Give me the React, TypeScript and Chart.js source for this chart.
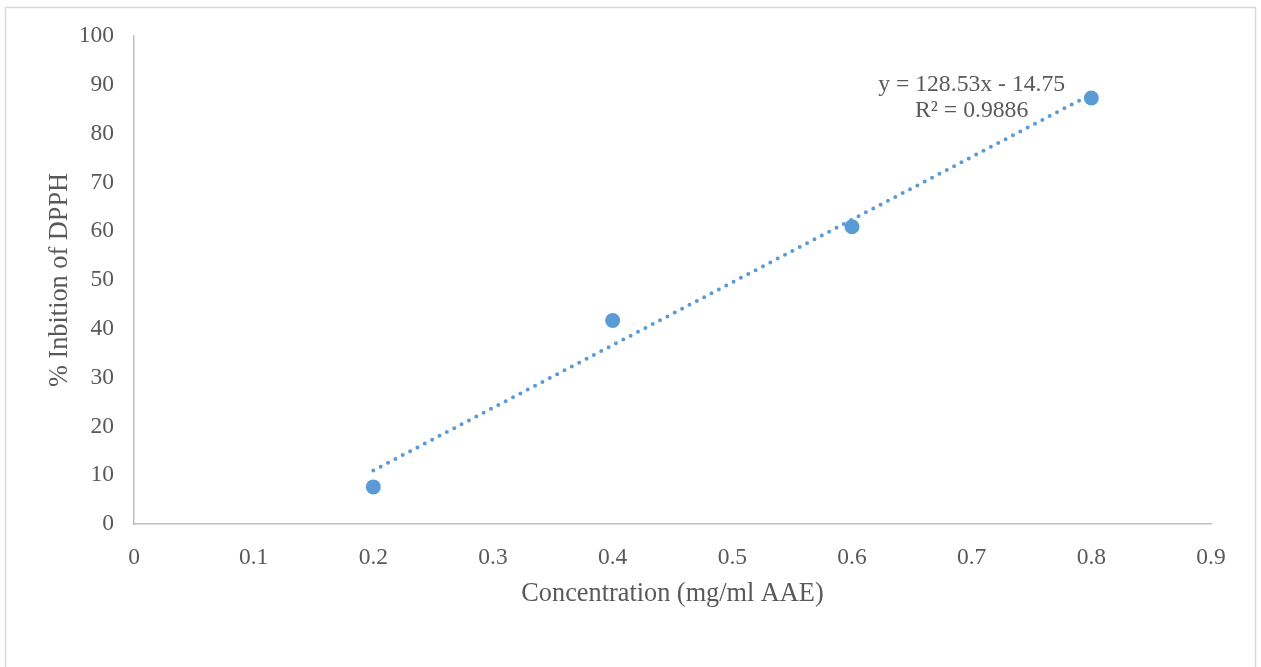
import React, { useEffect, useRef } from "react";
import { Chart, registerables } from "chart.js";

Chart.register(...registerables);

// ---- data ----
const concentrations = [0.2, 0.4, 0.6, 0.8];
const inhibition = [7.6, 41.7, 60.9, 87.3];
const trendX = [0.2, 0.8];
const trendY = [10.96, 88.07];
const xTickLabels = ["0", "0.1", "0.2", "0.3", "0.4", "0.5", "0.6", "0.7", "0.8", "0.9"];
const yTickLabels = ["0", "10", "20", "30", "40", "50", "60", "70", "80", "90", "100"];
const equationLines = ["y = 128.53x - 14.75", "R\u00b2 = 0.9886"];
const xTitle = "Concentration (mg/ml AAE)";
const yTitle = "% Inbition of DPPH";

const BLUE = "#5b9bd5";
const TEXT = "#595959";
const FONT = "'Liberation Serif', 'Times New Roman', serif";

const frame = {
  id: "frame",
  beforeDraw(chart: any) {
    const ctx = chart.ctx;
    ctx.save();
    ctx.fillStyle = "#ffffff";
    ctx.fillRect(0, 0, chart.width, chart.height);
    ctx.strokeStyle = "#d9d9d9";
    ctx.lineWidth = 1.5;
    ctx.strokeRect(5.5, 7.5, 1250, 680);
    ctx.restore();
  },
  afterDatasetsDraw(chart: any) {
    const ctx = chart.ctx;
    const xs = chart.scales.x;
    const ys = chart.scales.y;
    const cx = xs.getPixelForValue(0.7);
    const by = ys.getPixelForValue(88.7);
    ctx.save();
    ctx.fillStyle = TEXT;
    ctx.font = `23.7px ${FONT}`;
    ctx.textAlign = "center";
    ctx.textBaseline = "alphabetic";
    equationLines.forEach((t, i) => ctx.fillText(t, cx, by + i * 25.5));
    ctx.restore();
  },
};

export default function App() {
  const ref = useRef<HTMLCanvasElement>(null);
  useEffect(() => {
    const chart = new Chart(ref.current!, {
      type: "scatter",
      data: {
        datasets: [
          {
            type: "line",
            label: "Trend",
            data: trendX.map((x, i) => ({ x, y: trendY[i] })),
            borderColor: BLUE,
            borderWidth: 4,
            borderCapStyle: "round",
            borderDash: [0, 8.3],
            pointRadius: 0,
            fill: false,
            order: 2,
          } as any,
          {
            label: "Data",
            data: concentrations.map((x, i) => ({ x, y: inhibition[i] })),
            backgroundColor: BLUE,
            borderColor: BLUE,
            pointRadius: 7.5,
            pointBorderWidth: 0,
            order: 1,
          },
        ],
      },
      options: {
        responsive: false,
        animation: false,
        layout: { padding: { top: 36, right: 50, bottom: 0, left: 0 } },
        plugins: { legend: { display: false }, tooltip: { enabled: false } },
        scales: {
          x: {
            type: "linear",
            min: 0,
            max: 0.9,
            afterFit: (s: any) => { s.height = 143; },
            grid: { display: false, drawTicks: false },
            border: { display: true, color: "#bfbfbf", width: 1.5 },
            ticks: {
              stepSize: 0.1,
              padding: 20,
              color: TEXT,
              font: { family: FONT, size: 23.5 },
              maxRotation: 0,
              callback: (v: any) => xTickLabels[Math.round(Number(v) * 10)],
            },
            title: {
              display: true,
              text: xTitle,
              color: TEXT,
              font: { family: FONT, size: 26.3 },
              padding: { top: 0, bottom: 57 },
            },
          },
          y: {
            type: "linear",
            min: 0,
            max: 100,
            afterFit: (s: any) => { s.width = 134; },
            grid: { display: false, drawTicks: false },
            border: { display: true, color: "#bfbfbf", width: 1.5 },
            ticks: {
              stepSize: 10,
              padding: 20,
              color: TEXT,
              font: { family: FONT, size: 23.5 },
              callback: (v: any) => yTickLabels[Math.round(Number(v) / 10)],
            },
            title: {
              display: true,
              text: yTitle,
              color: TEXT,
              font: { family: FONT, size: 26.3 },
              padding: { top: 44, bottom: 0 },
            },
          },
        },
      },
      plugins: [frame],
    });
    return () => chart.destroy();
  }, []);
  return (
    <div style={{ position: "absolute", left: 0, top: 0, width: 1261, height: 667 }}>
      <canvas ref={ref} width={1261} height={667} style={{ display: "block" }} />
    </div>
  );
}
